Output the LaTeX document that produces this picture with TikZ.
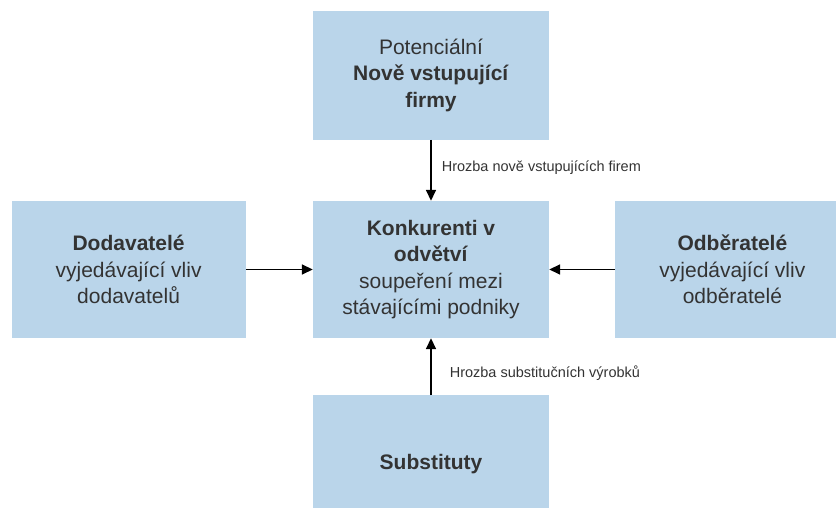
\documentclass[tikz,border=0pt]{standalone}
\usepackage{fontspec}
\setmainfont{Liberation Sans}
\usetikzlibrary{arrows.meta, positioning}

\definecolor{boxblue}{HTML}{BAD5EA}
\definecolor{textgray}{HTML}{333333}

\begin{document}
\begin{tikzpicture}[x=1pt, y=1pt, >={Triangle[length=11pt, width=10pt]},
  every node/.style={text=textgray},
  force/.style={fill=boxblue, inner sep=0pt, minimum width=236pt, minimum height=137pt,
    align=center, font=\fontsize{21}{26.5}\selectfont},
  threat/.style={font=\fontsize{14.5}{16}\selectfont, anchor=west, inner sep=0pt}]
  \clip (0,0) rectangle (836,508);

  % Central box and the four forces round it
  \node[force] (rival) at (431,238.5) {\textbf{Konkurenti v}\\\textbf{odvětví}\\soupeření mezi\\stávajícími podniky};
  \node[force, minimum height=129pt, above=61pt of rival] (entrants) {Potenciální\\\textbf{Nově vstupující}\\\textbf{firmy}};
  \node[force, minimum width=234pt, left=67pt of rival] (suppliers) {\textbf{Dodavatelé}\\vyjedávající vliv\\dodavatelů};
  \node[force, minimum width=234pt, right=66pt of rival] (buyers) {\textbf{Odběratelé}\\vyjedávající vliv\\odběratelé};
  \node[force, below=57pt of rival] (substitutes) {\textbf{Substituty}};

  % Arrows
  \draw[->, line width=1.6pt] (entrants) -- (rival) node[threat, midway, xshift=10pt, yshift=3pt] {Hrozba nově vstupujících firem};
  \draw[->, line width=1.6pt] (substitutes) -- (rival) node[threat, midway, xshift=18pt, yshift=-6pt] {Hrozba substitučních výrobků};
  \draw[->, line width=1.6pt] (suppliers) -- (rival);
  \draw[->, line width=1.6pt] (buyers) -- (rival);
\end{tikzpicture}
\end{document}
